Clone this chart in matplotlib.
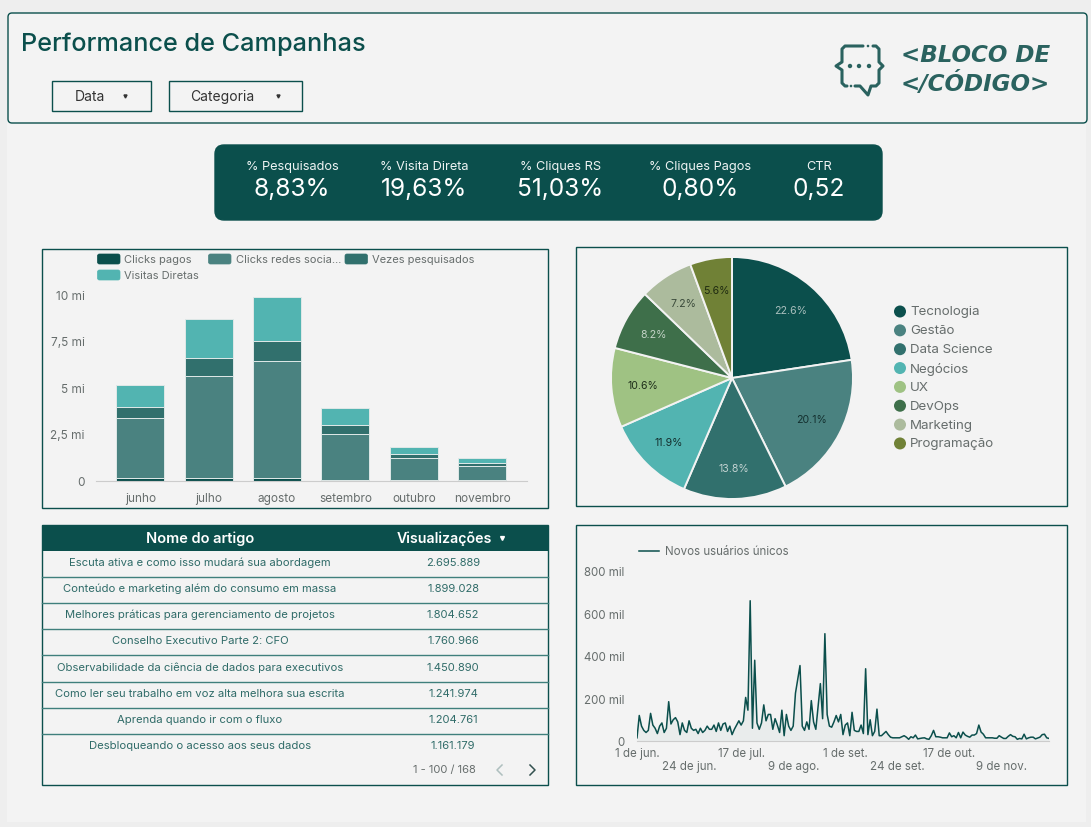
"""
Campaign dashboard - Visualization
Renders the campaign performance panel using Matplotlib.
"""

from __future__ import annotations

import matplotlib
matplotlib.use("Agg")  # headless backend
import matplotlib.pyplot as plt
import pandas as pd
from matplotlib.patches import Circle, FancyBboxPatch, Rectangle

WIDTH = 1091
HEIGHT = 828

DARK = "#0b4f4c"
TEXT_GREY = "#666d6c"
TABLE_TEXT = "#2f6b68"
LOGO = "#2a625f"

plt.rcParams["font.family"] = ["Inter", "DejaVu Sans"]

KPI_LABELS = ["% Pesquisados", "% Visita Direta", "% Cliques RS", "% Cliques Pagos", "CTR"]
KPI_VALUES = ["8,83%", "19,63%", "51,03%", "0,80%", "0,52"]

MONTHS = ["junho", "julho", "agosto", "setembro", "outubro", "novembro"]
CLICKS_PAID = [0.16, 0.11, 0.12, 0.03, 0.02, 0.02]
CLICKS_SOCIAL = [3.19, 5.51, 6.27, 2.49, 1.18, 0.78]
SEARCHES = [0.57, 0.95, 1.07, 0.43, 0.21, 0.15]
DIRECT_VISITS = [1.20, 2.09, 2.38, 0.93, 0.41, 0.28]
BAR_NAMES = ["Clicks pagos", "Clicks redes socia…", "Vezes pesquisados", "Visitas Diretas"]
BAR_COLORS = ["#0b4f4c", "#4a8280", "#31706d", "#52b4b1"]

CATEGORIES = ["Tecnologia", "Gestão", "Data Science", "Negócios", "UX", "DevOps", "Marketing", "Programação"]
SHARES = [22.6, 20.1, 13.8, 11.9, 10.6, 8.2, 7.2, 5.6]
PIE_COLORS = ["#0b4f4c", "#4a8280", "#31706d", "#52b4b1", "#9fc283", "#3e6f4a", "#acbb9d", "#708136"]
PIE_TEXT = ["#a9bfbd", "#14302f", "#c3d3d2", "#14302f", "#1e2e1a", "#c3d3c6", "#3a4a3a", "#1e2a10"]

ARTICLES = [
    "Escuta ativa e como isso mudará sua abordagem",
    "Conteúdo e marketing além do consumo em massa",
    "Melhores práticas para gerenciamento de projetos",
    "Conselho Executivo Parte 2: CFO",
    "Observabilidade da ciência de dados para executivos",
    "Como ler seu trabalho em voz alta melhora sua escrita",
    "Aprenda quando ir com o fluxo",
    "Desbloqueando o acesso aos seus dados",
]
VIEWS = ["2.695.889", "1.899.028", "1.804.652", "1.760.966", "1.450.890", "1.241.974", "1.204.761", "1.161.179"]

# New unique users per day, in thousands, 1 Jun to 30 Nov
NEW_USERS = [
    15, 120, 70, 50, 40, 50, 130, 75, 60, 35,
    70, 85, 40, 60, 185, 80, 100, 110, 90, 30,
    85, 50, 40, 95, 60, 50, 55, 35, 60, 40,
    50, 70, 55, 55, 75, 45, 85, 50, 80, 85,
    45, 70, 30, 55, 75, 95, 75, 95, 205, 145,
    660, 60, 380, 85, 55, 85, 170, 95, 125, 125,
    55, 105, 75, 40, 145, 25, 125, 70, 50, 70,
    225, 290, 355, 70, 50, 90, 55, 190, 90, 55,
    160, 270, 105, 505, 125, 70, 65, 90, 120, 90,
    125, 30, 75, 85, 25, 135, 50, 45, 45, 75,
    35, 340, 30, 100, 25, 45, 150, 25, 25, 35,
    45, 30, 18, 15, 15, 15, 15, 20, 25, 18,
    8, 20, 15, 28, 10, 12, 14, 15, 10, 8,
    25, 50, 20, 20, 18, 15, 15, 15, 38, 20,
    25, 15, 40, 15, 42, 28, 22, 18, 28, 28,
    35, 75, 42, 32, 15, 15, 15, 15, 13, 13,
    25, 18, 12, 12, 22, 30, 22, 20, 8, 12,
    10, 32, 10, 15, 18, 18, 10, 14, 18, 30,
    32, 15, 12,
]
LINE_TICK_DATES = ["2023-06-01", "2023-06-24", "2023-07-17", "2023-08-09",
                   "2023-09-01", "2023-09-24", "2023-10-17", "2023-11-09"]
LINE_TICK_LABELS = ["1 de jun.", "\n24 de jun.", "17 de jul.", "\n9 de ago.",
                    "1 de set.", "\n24 de set.", "17 de out.", "\n9 de nov."]


# ---------------------------------------------------------------------------
# Internal helpers
# ---------------------------------------------------------------------------

def _pixel_axes(fig, left: float, top: float, right: float, bottom: float):
    """Add a transparent axes placed by its pixel box on the figure."""
    ax = fig.add_axes([
        left / WIDTH,
        1 - bottom / HEIGHT,
        (right - left) / WIDTH,
        (bottom - top) / HEIGHT,
    ])
    ax.patch.set_alpha(0)
    return ax


def _box(ax, left, top, right, bottom, radius=0.0, face="none", edge=DARK, lw=1.0, zorder=2):
    """Draw a plain or rounded box on the page axes."""
    ax.add_patch(FancyBboxPatch(
        (left + radius, top + radius),
        right - left - 2 * radius,
        bottom - top - 2 * radius,
        boxstyle=f"round,pad={radius},rounding_size={radius}" if radius else "square,pad=0",
        facecolor=face,
        edgecolor=edge,
        linewidth=lw,
        zorder=zorder,
    ))


def _draw_logo(ax) -> None:
    """Draw the speech bubble mark and the wordmark."""
    left_side = [(863, 45), (845, 45), (842, 48), (842, 61), (836, 65), (842, 69),
                 (842, 82), (845, 85), (847, 85)]
    right_side = [(873, 45), (876, 45), (879, 48), (879, 61), (883, 65), (879, 69),
                  (879, 82), (876, 85), (871, 85), (868, 94), (860, 85), (855, 85)]
    for path in (left_side, right_side):
        ax.plot(*zip(*path), color=LOGO, lw=2.2, solid_capstyle="round", solid_joinstyle="round", zorder=3)
    for x, y, size in [(850, 65, 2.2), (859, 65, 2.2), (869, 65, 2.2), (851, 85, 1.3), (868, 45, 1.3)]:
        ax.add_patch(Circle((x, y), size, color=LOGO, lw=0, zorder=3))
    for y, line in [(54, "<BLOCO DE"), (82, "</CÓDIGO>")]:
        ax.text(901, y, line, color=LOGO, fontsize=16.6, fontweight="bold", fontstyle="italic",
                family="DejaVu Sans", ha="left", va="center")


def _draw_header(ax) -> None:
    """Draw the title strip with its two filter buttons."""
    _box(ax, 8, 12, 1087, 122, radius=4, face="#f3f3f3")
    ax.text(21, 42, "Performance de Campanhas", color=DARK, fontsize=18.2, fontweight="medium",
            ha="left", va="center")
    for left, right, name, text_x, arrow_x in [(52, 151, "Data", 89.5, 125), (169, 302, "Categoria", 222, 277.5)]:
        ax.add_patch(Rectangle((left + 1, 82), right - left, 29, color="#b5bdbc", lw=0, zorder=2.5))
        ax.add_patch(Rectangle((left, 80), right - left, 30, facecolor="#f3f3f3", edgecolor=DARK, lw=1, zorder=2.8))
        ax.text(text_x, 95, name, color="#333333", fontsize=10, ha="center", va="center")
        ax.plot([arrow_x], [94.5], marker="v", ms=2.2, color="#333333", zorder=3)
    _draw_logo(ax)


def _draw_kpis(ax) -> None:
    """Draw the dark scorecard band."""
    _box(ax, 215, 144, 882, 219, radius=9, face=DARK, edge=DARK)
    centers = [292, 424, 560.5, 700.5, 819]
    for x, label, value in zip(centers, KPI_LABELS, KPI_VALUES):
        ax.text(x, 165, label, color="#eef3f3", fontsize=9.2, ha="center", va="center")
        ax.text(x, 187, value, color="#ffffff", fontsize=17.6, ha="center", va="center")


def _draw_bars(fig, page) -> None:
    """Draw the stacked monthly bars and their legend."""
    _box(page, 42, 248, 548, 507, face="none")
    ax = _pixel_axes(fig, 96, 295, 527, 481.5)
    bottom = [0.0] * len(MONTHS)
    for series, color in zip([CLICKS_PAID, CLICKS_SOCIAL, SEARCHES, DIRECT_VISITS], BAR_COLORS):
        ax.bar(MONTHS, series, width=0.70, bottom=bottom, color=color, edgecolor="#dfe8e7", linewidth=0.7)
        bottom = [b + v for b, v in zip(bottom, series)]
    ax.set_xlim(-0.646, 5.655)
    ax.set_ylim(0, 10)
    ax.set_yticks([0, 2.5, 5, 7.5, 10], ["0", "2,5 mi", "5 mi", "7,5 mi", "10 mi"])
    ax.tick_params(length=0, labelsize=8.5, labelcolor=TEXT_GREY, pad=8)
    for side in ["top", "right", "left"]:
        ax.spines[side].set_visible(False)
    ax.spines["bottom"].set_color("#cccccc")

    # Legend: two rows as in the report builder
    for (x, y), name, color in zip([(97.5, 258), (208.5, 258), (345, 258), (97.5, 274)], BAR_NAMES, BAR_COLORS):
        _box(page, x, y - 5, x + 22.5, y + 5, radius=2, face=color, edge=color, lw=0.5, zorder=3)
        page.text(x + 27, y, name, color=TEXT_GREY, fontsize=8.0, ha="left", va="center")


def _draw_pie(fig, page) -> None:
    """Draw the category pie and its round legend."""
    _box(page, 576, 246, 1067, 505, face="none")
    ax = _pixel_axes(fig, 611, 258, 853, 500)
    wedges, _, autotexts = ax.pie(
        SHARES,
        colors=PIE_COLORS,
        startangle=90,
        counterclock=False,
        radius=1.0,
        autopct="%.1f%%",
        pctdistance=0.74,
        wedgeprops={"edgecolor": "#f3f3f3", "linewidth": 1.4},
        textprops={"fontsize": 7.6},
    )
    for label, color in zip(autotexts, PIE_TEXT):
        label.set_color(color)
    ax.set_xlim(-1, 1)
    ax.set_ylim(-1, 1)

    for i, (name, color) in enumerate(zip(CATEGORIES, PIE_COLORS)):
        y = 310.5 + i * 18.85
        page.add_patch(Circle((900, y), 6, color=color, lw=0, zorder=3))
        page.text(910, y, name, color=TEXT_GREY, fontsize=9.6, ha="left", va="center")


def _draw_table(page) -> None:
    """Draw the article ranking table."""
    _box(page, 42, 524, 548, 784, face="none")
    page.add_patch(Rectangle((42, 524), 506, 26, color=DARK, lw=0, zorder=3))
    page.text(200, 537, "Nome do artigo", color="white", fontsize=10.5, fontweight="semibold",
              ha="center", va="center", zorder=4)
    page.text(444, 537, "Visualizações", color="white", fontsize=10.2, fontweight="semibold",
              ha="center", va="center", zorder=4)
    page.plot([502], [536.5], marker="v", ms=2.8, color="white", zorder=4)

    text_rows = [561, 587, 613, 639, 666, 692, 718, 744]
    for y, article, views in zip(text_rows, ARTICLES, VIEWS):
        page.text(200, y, article, color=TABLE_TEXT, fontsize=8.1, ha="center", va="center")
        page.text(453, y, views, color=TABLE_TEXT, fontsize=8.0, ha="center", va="center")
    for y in [575.5, 601.5, 627.5, 653.5, 680.5, 706.5, 732.5]:
        page.plot([42, 548], [y, y], color="#3f7f7c", lw=1.0)

    page.text(444, 768, "1 - 100 / 168", color=TEXT_GREY, fontsize=8.0, ha="center", va="center")
    page.plot([502, 497, 502], [764, 769, 774], color="#aebfbe", lw=1.1)
    page.plot([530, 535, 530], [764, 769, 774], color="#33514f", lw=1.1)


def _draw_line(fig, page) -> None:
    """Draw the daily new users line."""
    _box(page, 576, 524, 1067, 784, face="none")
    ax = _pixel_axes(fig, 637, 572, 1049, 742)
    days = pd.date_range("2023-06-01", periods=len(NEW_USERS))
    ax.fill_between(days, NEW_USERS, color=DARK, alpha=0.04, linewidth=0)
    ax.plot(days, NEW_USERS, color=DARK, lw=1.1)
    ax.set_xlim(days[0], days[-1])
    ax.set_ylim(0, 800)
    ax.set_yticks([0, 200, 400, 600, 800], ["0", "200 mil", "400 mil", "600 mil", "800 mil"])
    ax.set_xticks(pd.to_datetime(LINE_TICK_DATES), LINE_TICK_LABELS)
    ax.tick_params(length=0, labelsize=8.3, labelcolor=TEXT_GREY)
    ax.tick_params(axis="y", pad=9)
    ax.tick_params(axis="x", pad=4)
    for side in ["top", "right", "left"]:
        ax.spines[side].set_visible(False)
    ax.spines["bottom"].set_color("#cccccc")

    page.plot([639, 659], [550, 550], color=DARK, lw=1.1)
    page.text(665, 550, "Novos usuários únicos", color=TEXT_GREY, fontsize=8.3, ha="left", va="center")


def render_dashboard(output_path: str = "out.png") -> None:
    """
    Render the whole dashboard as a PNG image.

    Args:
        output_path: Where to save the image.
    """
    fig = plt.figure(figsize=(WIDTH / 100, HEIGHT / 100), dpi=100)
    fig.patch.set_facecolor("#eeeeee")

    page = _pixel_axes(fig, 0, 0, WIDTH, HEIGHT)
    page.set_xlim(0, WIDTH)
    page.set_ylim(HEIGHT - 2, -2)
    page.axis("off")
    page.add_patch(Rectangle((7, 12), 1079, 809, color="#f3f3f3", lw=0, zorder=0))

    _draw_header(page)
    _draw_kpis(page)
    _draw_bars(fig, page)
    _draw_pie(fig, page)
    _draw_table(page)
    _draw_line(fig, page)

    plt.savefig(output_path, facecolor=fig.get_facecolor())
    plt.close(fig)


render_dashboard()
